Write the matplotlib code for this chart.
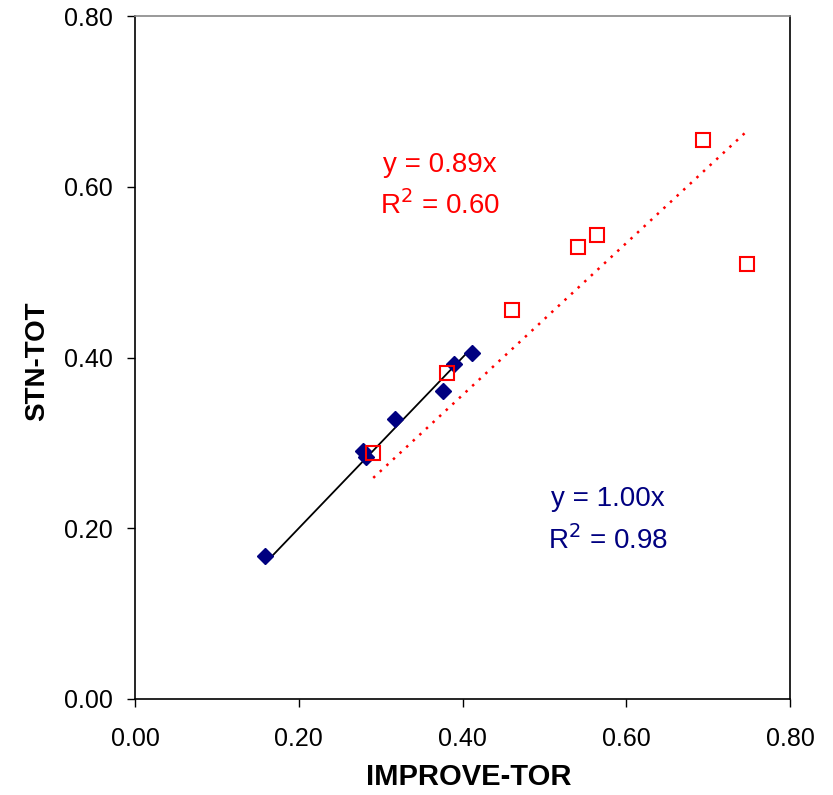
import numpy as np
import matplotlib
matplotlib.use("Agg")
import matplotlib.pyplot as plt

plt.rcParams['font.family'] = ['Liberation Sans', 'DejaVu Sans']

# STN vs IMPROVE, set 1 (blue diamonds)
blue_x = [0.159, 0.278, 0.282, 0.317, 0.376, 0.390, 0.412]
blue_y = [0.168, 0.290, 0.283, 0.328, 0.361, 0.392, 0.405]
blue_slope = 1.00
blue_r2 = 0.98

# set 2 (red open squares)
red_x = [0.291, 0.381, 0.460, 0.541, 0.564, 0.694, 0.747]
red_y = [0.288, 0.382, 0.456, 0.529, 0.544, 0.655, 0.510]
red_slope = 0.89
red_r2 = 0.60

navy = '#000080'
red = '#ff0000'

fig = plt.figure(figsize=(8.33, 7.95), dpi=100)
ax = fig.add_axes([135/833, 96/795, 655/833, 683/795])

ax.plot(blue_x, blue_y, linestyle='none', marker='D', markersize=8.5,
        color=navy, zorder=3)
bx = np.array([min(blue_x), max(blue_x)])
ax.plot(bx, blue_slope * bx, color='black', lw=1.3, zorder=2)

ax.plot(red_x, red_y, linestyle='none', marker='s', markersize=10,
        markerfacecolor='none', markeredgecolor=red, markeredgewidth=1.5, zorder=4)
rx = np.array([min(red_x), max(red_x)])
ax.plot(rx, red_slope * rx, color=red, lw=1.8, linestyle=(0, (1, 2.6)), zorder=2)

ax.text(0.372, 0.626, f"y = {red_slope:.2f}x", color=red, fontsize=20,
        ha='center', va='center')
ax.text(0.372, 0.578, f"R$^2$ = {red_r2:.2f}", color=red, fontsize=20,
        ha='center', va='center')
ax.text(0.578, 0.234, f"y = {blue_slope:.2f}x", color=navy, fontsize=20,
        ha='center', va='center')
ax.text(0.578, 0.186, f"R$^2$ = {blue_r2:.2f}", color=navy, fontsize=20,
        ha='center', va='center')

ax.set_xlim(0, 0.8)
ax.set_ylim(0, 0.8)
ticks = [0.0, 0.2, 0.4, 0.6, 0.8]
ax.set_xticks(ticks)
ax.set_yticks(ticks)
ax.set_xticklabels([f"{t:.2f}" for t in ticks], fontsize=18)
ax.set_yticklabels([f"{t:.2f}" for t in ticks], fontsize=18)
ax.tick_params(direction='out', length=6, width=1, pad=10)
ax.tick_params(axis='x', pad=14)

ax.spines['top'].set_color('#888888')
for s in ax.spines.values():
    s.set_linewidth(1.2)

ax.set_xlabel("IMPROVE-TOR", fontsize=21, fontweight='bold')
ax.set_ylabel("STN-TOT", fontsize=20, fontweight='bold')
ax.xaxis.set_label_coords(0.51, -0.094)
ax.yaxis.set_label_coords(-0.13, 0.495)

fig.savefig("out.png", dpi=100, facecolor='white')
